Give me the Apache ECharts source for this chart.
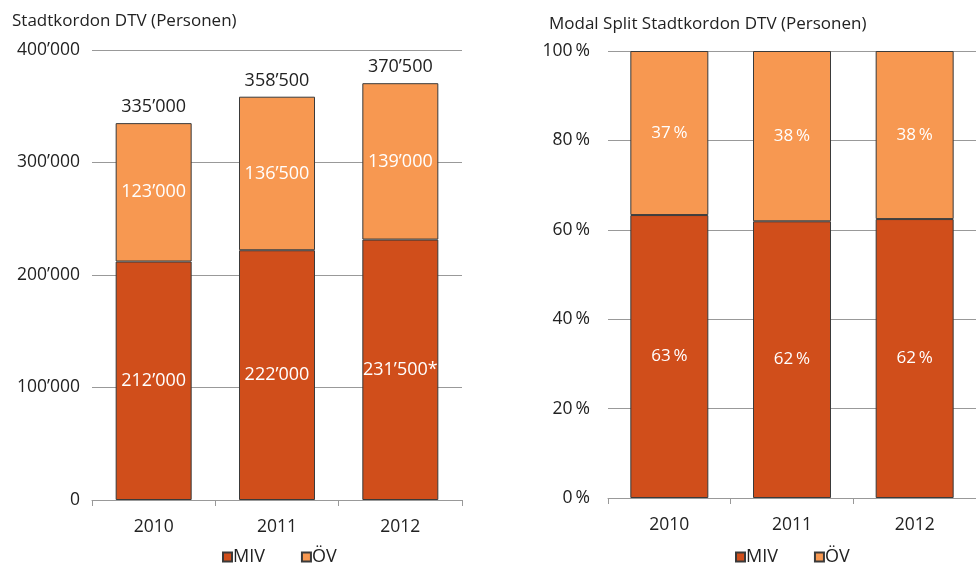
<!DOCTYPE html>
<html>
<head>
<meta charset="utf-8">
<script src="https://cdn.jsdelivr.net/npm/echarts@6/dist/echarts.min.js"></script>
<style>
  html, body { margin: 0; padding: 0; background: #fff; }
  #main { width: 976px; height: 564px; }
</style>
</head>
<body>
<div id="main"></div>
<script>
var years = ['2010', '2011', '2012'];
var mivPersonen = [212000, 222000, 231500];
var ovPersonen = [123000, 136500, 139000];
var totalPersonen = [335000, 358500, 370500];
var mivNotes = ['', '', '*'];
var mivShare = [63.3, 61.9, 62.4];
var ovShare = [36.7, 38.1, 37.6];
var leftTicks = [0, 100000, 200000, 300000, 400000];
var rightTicks = [0, 20, 40, 60, 80, 100];

var FONT = '"Open Sans", "Noto Sans", sans-serif';
var MIV_COLOR = '#d04e1b';
var OV_COLOR = '#f79851';
var BORDER = '#3a3a3a';

function fmt(v) {
  return String(v).replace(/\B(?=(\d{3})+(?!\d))/g, '\u2019');
}
function pct(v) {
  return Math.round(v) + '\u2009%';
}

var chart = echarts.init(document.getElementById('main'));

var legendText = { fontFamily: FONT, fontSize: 18, color: '#222', padding: [8, 0, 0, -4] };

var option = {
  animation: false,
  textStyle: { fontFamily: FONT },
  title: [
    { text: 'Stadtkordon DTV (Personen)', left: 7, top: 8,
      textStyle: { fontFamily: FONT, fontSize: 17, fontWeight: 'normal', color: '#222' } },
    { text: 'Modal Split Stadtkordon DTV (Personen)', left: 544, top: 11,
      textStyle: { fontFamily: FONT, fontSize: 17, fontWeight: 'normal', color: '#222' } }
  ],
  legend: [
    { data: ['MIV', 'ÖV'], left: 222, top: 548, padding: 0, itemWidth: 9, itemHeight: 9, itemGap: 36,
      icon: 'rect', textStyle: legendText },
    { data: ['MIV', 'ÖV'], left: 735, top: 548, padding: 0, itemWidth: 9, itemHeight: 9, itemGap: 36,
      icon: 'rect', textStyle: legendText }
  ],
  grid: [
    { left: 92, top: 50, width: 370, height: 450 },
    { left: 608, top: 51, width: 378, height: 447 }
  ],
  xAxis: [
    { type: 'category', gridIndex: 0, data: years,
      axisLine: { lineStyle: { color: '#999' } },
      axisTick: { show: true, length: 6, lineStyle: { color: '#999' } },
      axisLabel: { fontFamily: FONT, fontSize: 17.5, color: '#222', margin: 18 } },
    { type: 'category', gridIndex: 1, data: years,
      axisLine: { lineStyle: { color: '#999' } },
      axisTick: { show: true, length: 6, lineStyle: { color: '#999' } },
      axisLabel: { fontFamily: FONT, fontSize: 17.5, color: '#222', margin: 18 } }
  ],
  yAxis: [
    { type: 'value', gridIndex: 0, min: leftTicks[0], max: leftTicks[leftTicks.length - 1], interval: 100000,
      axisLine: { show: false }, axisTick: { show: false },
      splitLine: { lineStyle: { color: '#999' } },
      axisLabel: { fontFamily: FONT, fontSize: 17.5, color: '#222', margin: 12, formatter: fmt } },
    { type: 'value', gridIndex: 1, min: rightTicks[0], max: rightTicks[rightTicks.length - 1], interval: 20,
      axisLine: { show: false }, axisTick: { show: false },
      splitLine: { lineStyle: { color: '#999' } },
      axisLabel: { fontFamily: FONT, fontSize: 17.5, color: '#222', margin: 18, formatter: pct } }
  ],
  series: [
    { name: 'MIV', type: 'bar', stack: 'abs', xAxisIndex: 0, yAxisIndex: 0, barWidth: 76,
      data: mivPersonen,
      itemStyle: { color: MIV_COLOR, borderColor: BORDER, borderWidth: 1 },
      label: { show: true, position: 'inside', color: '#fff', fontFamily: FONT, fontSize: 18,
        formatter: function (p) { return fmt(p.value) + mivNotes[p.dataIndex]; } } },
    { name: 'ÖV', type: 'bar', stack: 'abs', xAxisIndex: 0, yAxisIndex: 0, barWidth: 76,
      data: ovPersonen,
      itemStyle: { color: OV_COLOR, borderColor: BORDER, borderWidth: 1 },
      label: { show: true, position: 'inside', color: '#fff', fontFamily: FONT, fontSize: 18,
        formatter: function (p) { return fmt(p.value); } } },
    { name: 'Total', type: 'bar', xAxisIndex: 0, yAxisIndex: 0, barWidth: 76, barGap: '-100%',
      data: totalPersonen, silent: true, z: 0,
      itemStyle: { color: 'rgba(0,0,0,0)' },
      label: { show: true, position: 'top', distance: 7, color: '#222', fontFamily: FONT, fontSize: 18,
        formatter: function (p) { return fmt(p.value); } } },
    { name: 'MIV', type: 'bar', stack: 'pct', xAxisIndex: 1, yAxisIndex: 1, barWidth: 78,
      data: mivShare,
      itemStyle: { color: MIV_COLOR, borderColor: BORDER, borderWidth: 1 },
      label: { show: true, position: 'inside', color: '#fff', fontFamily: FONT, fontSize: 17,
        formatter: function (p) { return pct(p.value); } } },
    { name: 'ÖV', type: 'bar', stack: 'pct', xAxisIndex: 1, yAxisIndex: 1, barWidth: 78,
      data: ovShare,
      itemStyle: { color: OV_COLOR, borderColor: BORDER, borderWidth: 1 },
      label: { show: true, position: 'inside', color: '#fff', fontFamily: FONT, fontSize: 17,
        formatter: function (p) { return pct(p.value); } } }
  ]
};

chart.setOption(option);
</script>
</body>
</html>
